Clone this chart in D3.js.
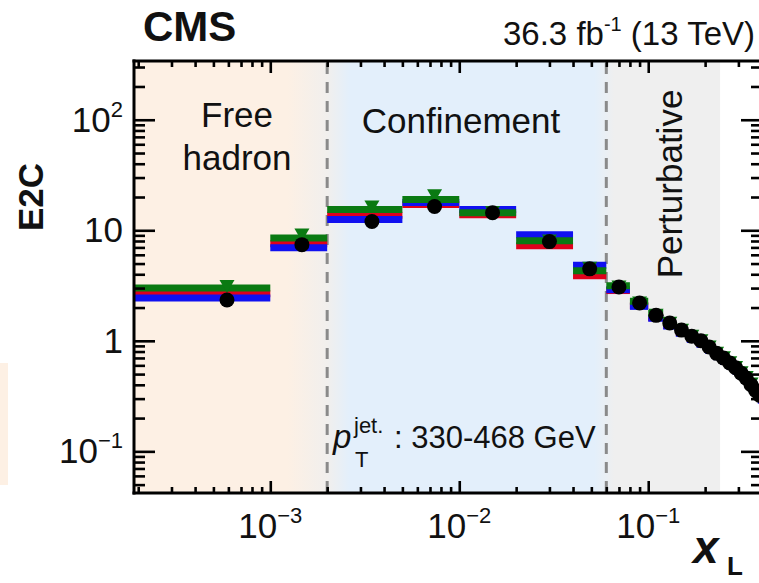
<!DOCTYPE html>
<html><head><meta charset="utf-8">
<script src="https://cdn.jsdelivr.net/npm/d3@7"></script>
<style>
body{margin:0;background:#fff;}
svg{display:block;font-family:"Liberation Sans",Arial,Helvetica,sans-serif;}
</style></head><body>
<svg id="chart" width="759" height="583"></svg>
<script>
// Bin edges in x_L (log bins at small angle, 0.02-wide bins in the perturbative tail)
const binEdges = [1e-4, 1e-3, 2e-3, 5e-3, 0.01, 0.02, 0.04, 0.06,
  0.08, 0.10, 0.12, 0.14, 0.16, 0.18, 0.20, 0.22, 0.24, 0.26, 0.28, 0.30, 0.32, 0.34, 0.36, 0.38, 0.40];
// Marker position inside each bin
const markerX = [5.9e-4, 1.47e-3, 3.45e-3, 7.4e-3, 0.015, 0.03, 0.049,
  0.07, 0.09, 0.11, 0.13, 0.15, 0.17, 0.19, 0.21, 0.23, 0.25, 0.27, 0.29, 0.31, 0.33, 0.35, 0.37, 0.39];
// Measured E2C (black points)
const dataE2C = [2.34, 7.41, 12.0, 16.4, 14.4, 7.9, 4.48,
  3.07, 2.2, 1.7, 1.45, 1.25, 1.1, 1.0, 0.88, 0.77, 0.70, 0.63, 0.57, 0.51, 0.46, 0.40, 0.356, 0.32];
// Generator predictions drawn as horizontal bands
const modelGreen = [3.01, 8.5, 15.4, 19.0, 14.4, 8.06, 4.30,
  3.15, 2.28, 1.77, 1.5, 1.3, 1.14, 1.04, 0.92, 0.80, 0.73, 0.66, 0.60, 0.53, 0.48, 0.42, 0.37, 0.33];
const modelRed = [2.66, 7.57, 13.7, 17.1, 13.8, 7.26, 3.87,
  2.85, 2.08, 1.62, 1.38, 1.19, 1.05, 0.95, 0.84, 0.74, 0.67, 0.60, 0.54, 0.49, 0.44, 0.38, 0.34, 0.30];
const modelBlue = [2.44, 6.96, 12.5, 17.8, 15.4, 9.1, 4.83,
  2.9, 2.05, 1.6, 1.36, 1.17, 1.03, 0.93, 0.82, 0.72, 0.65, 0.59, 0.53, 0.48, 0.43, 0.37, 0.33, 0.29];
// Prediction shown with downward triangles
const modelTriangle = [3.13, 9.14, 16.4, 20.7, 14.6, 8.1, 4.58,
  3.1, 2.22, 1.72, 1.46, 1.26, 1.11, 1.01, 0.89, 0.78, 0.71, 0.64, 0.58, 0.52, 0.47, 0.41, 0.36, 0.32];

const yTickLabels = [
  {value: 0.1, base: "10", exp: "\u22121"},
  {value: 1, base: "1", exp: ""},
  {value: 10, base: "10", exp: ""},
  {value: 100, base: "10", exp: "2"}
];
const xTickLabels = [
  {value: 1e-3, base: "10", exp: "\u22123"},
  {value: 1e-2, base: "10", exp: "\u22122"},
  {value: 1e-1, base: "10", exp: "\u22121"}
];
// Region boundaries: free hadron | confinement | perturbative (end of shading)
const regionEdges = [0.002, 0.06, 0.24];
const regionNames = ["Free", "hadron", "Confinement", "Perturbative"];

const svg = d3.select("#chart");
const m = {left: 134, right: 762, top: 61, bottom: 493};
const x = d3.scaleLog().domain([1.9e-4, 0.4]).range([m.left, m.right]);
const y = d3.scaleLog().domain([0.042, 340]).range([m.bottom, m.top]);

const defs = svg.append("defs");
defs.append("clipPath").attr("id", "plotClip").append("rect")
  .attr("x", m.left).attr("y", m.top).attr("width", m.right - m.left).attr("height", m.bottom - m.top);

// Background shading of the three regimes with soft transitions
const gx0 = m.left, gx1 = x(regionEdges[2]);
const grad = defs.append("linearGradient").attr("id", "regimes")
  .attr("gradientUnits", "userSpaceOnUse")
  .attr("x1", gx0).attr("x2", gx1).attr("y1", 0).attr("y2", 0);
const off = px => Math.max(0, Math.min(1, (px - gx0) / (gx1 - gx0)));
const xa = x(regionEdges[0]), xb = x(regionEdges[1]);
[
  [m.left, "#fdf0e4"],
  [xa - 40, "#fdf0e4"],
  [xa, "#f1efed"],
  [xa + 22, "#e3effb"],
  [xb - 12, "#e3effb"],
  [xb + 8, "#efefef"],
  [gx1, "#efefef"]
].forEach(([px, c]) => grad.append("stop").attr("offset", off(px)).attr("stop-color", c));

svg.append("rect").attr("x", gx0).attr("y", m.top).attr("width", gx1 - gx0)
  .attr("height", m.bottom - m.top).attr("fill", "url(#regimes)");

// Strip of the neighbouring panel's shading
svg.append("rect").attr("x", 0).attr("y", 363).attr("width", 8).attr("height", 122).attr("fill", "#fdf0e4");

// Dashed region separators
svg.append("g").selectAll("line").data(regionEdges.slice(0, 2)).join("line")
  .attr("x1", d => x(d)).attr("x2", d => x(d))
  .attr("y1", m.top + 2).attr("y2", m.bottom)
  .attr("stroke", "#8a8a8a").attr("stroke-width", 3).attr("stroke-dasharray", "11,8");

// Region labels
const regionText = svg.append("g").attr("font-size", 35).attr("fill", "#111");
regionText.append("text").attr("x", 237).attr("y", 127).attr("text-anchor", "middle").text(regionNames[0]);
regionText.append("text").attr("x", 237).attr("y", 170).attr("text-anchor", "middle").text(regionNames[1]);
regionText.append("text").attr("x", 461).attr("y", 133).attr("text-anchor", "middle").text(regionNames[2]);
regionText.append("text").attr("transform", "translate(682,184) rotate(-90)")
  .attr("text-anchor", "middle").text(regionNames[3]);

// Bins and markers
const bins = dataE2C.map((v, i) => ({
  lo: binEdges[i], hi: binEdges[i + 1], mx: markerX[i], data: v,
  green: modelGreen[i], red: modelRed[i], blue: modelBlue[i], tri: modelTriangle[i]
}));
const plot = svg.append("g").attr("clip-path", "url(#plotClip)");
const band = (key, color) => plot.append("g").selectAll("line").data(bins).join("line")
  .attr("x1", d => x(d.lo)).attr("x2", d => x(d.hi))
  .attr("y1", d => y(d[key])).attr("y2", d => y(d[key]))
  .attr("stroke", color).attr("stroke-width", 7);
band("red", "#e0001b");
band("blue", "#1010f0");
band("green", "#0a7a12");

plot.append("g").selectAll("path").data(bins).join("path")
  .attr("d", d => {
    const cx = x(d.mx), cy = y(d.tri);
    return `M${cx - 7.5},${cy - 6}L${cx + 7.5},${cy - 6}L${cx},${cy + 7}Z`;
  })
  .attr("fill", "#0a7a12");

plot.append("g").selectAll("circle").data(bins).join("circle")
  .attr("cx", d => x(d.mx)).attr("cy", d => y(d.data)).attr("r", 7.5).attr("fill", "#000");

// Axes: ticks drawn inward on all four sides
const isMajor = v => Math.abs(Math.log10(v) - Math.round(Math.log10(v))) < 1e-6;
const yMinor = y.ticks().filter(v => !isMajor(v)), yMajor = y.ticks().filter(isMajor);
const xMinor = x.ticks().filter(v => !isMajor(v)), xMajor = x.ticks().filter(isMajor);
const tickStyle = g => {
  g.select(".domain").remove();
  g.selectAll(".tick line").attr("stroke", "#000").attr("stroke-width", 2.6);
  g.selectAll(".tick text").remove();
};
const addAxis = (axis, t) => svg.append("g").attr("transform", t).call(axis).call(tickStyle);
addAxis(d3.axisLeft(y).tickValues(yMinor).tickSize(-11), `translate(${m.left},0)`);
addAxis(d3.axisLeft(y).tickValues(yMajor).tickSize(-21), `translate(${m.left},0)`);
addAxis(d3.axisRight(y).tickValues(yMinor).tickSize(-11), `translate(${m.right},0)`);
addAxis(d3.axisRight(y).tickValues(yMajor).tickSize(-21), `translate(${m.right},0)`);
addAxis(d3.axisBottom(x).tickValues(xMinor).tickSize(-6), `translate(0,${m.bottom})`);
addAxis(d3.axisBottom(x).tickValues(xMajor).tickSize(-12), `translate(0,${m.bottom})`);
addAxis(d3.axisTop(x).tickValues(xMinor).tickSize(-6), `translate(0,${m.top})`);
addAxis(d3.axisTop(x).tickValues(xMajor).tickSize(-12), `translate(0,${m.top})`);

// Frame
const frame = svg.append("g").attr("stroke", "#000").attr("stroke-width", 3).attr("stroke-linecap", "square");
frame.append("line").attr("x1", m.left).attr("x2", m.left).attr("y1", m.top).attr("y2", m.bottom);
frame.append("line").attr("x1", m.left).attr("x2", m.right).attr("y1", m.bottom).attr("y2", m.bottom);
frame.append("line").attr("x1", m.left).attr("x2", m.right).attr("y1", m.top).attr("y2", m.top);
frame.append("line").attr("x1", m.right).attr("x2", m.right).attr("y1", m.top).attr("y2", m.bottom);

// Tick labels with superscripts
const yl = svg.append("g").attr("font-size", 35).attr("fill", "#111");
yTickLabels.forEach(d => {
  const t = yl.append("text").attr("x", 123).attr("y", y(d.value) + 12).attr("text-anchor", "end");
  t.append("tspan").text(d.base);
  if (d.exp) t.append("tspan").attr("font-size", 22).attr("dy", -15).text(d.exp);
});
const xl = svg.append("g").attr("font-size", 35).attr("fill", "#111");
xTickLabels.forEach(d => {
  const t = xl.append("text").attr("x", x(d.value)).attr("y", 538).attr("text-anchor", "middle");
  t.append("tspan").text(d.base);
  if (d.exp) t.append("tspan").attr("font-size", 22).attr("dy", -15).text(d.exp);
});

// Axis titles
svg.append("text").attr("transform", "translate(43,197) rotate(-90)").attr("text-anchor", "middle")
  .attr("font-size", 35).attr("font-weight", "bold").attr("fill", "#111").text("E2C");
const xt = svg.append("g").attr("fill", "#111").attr("font-weight", "bold");
xt.append("text").attr("x", 693).attr("y", 563).attr("font-size", 46).attr("font-style", "italic").text("x");
xt.append("text").attr("x", 727).attr("y", 575).attr("font-size", 26).text("L");

// Header
svg.append("text").attr("x", 143).attr("y", 41).attr("font-size", 42).attr("font-weight", "bold")
  .attr("fill", "#111").text("CMS");
const lumi = svg.append("text").attr("x", 755).attr("y", 45).attr("text-anchor", "end")
  .attr("font-size", 33).attr("fill", "#111");
lumi.append("tspan").text("36.3 fb");
lumi.append("tspan").attr("font-size", 20).attr("dy", -14).text("-1");
lumi.append("tspan").attr("dy", 14).text(" (13 TeV)");

// Jet pT range
const pt = svg.append("g").attr("fill", "#111");
pt.append("text").attr("x", 333).attr("y", 448).attr("font-size", 33).attr("font-style", "italic").text("p");
pt.append("text").attr("x", 354).attr("y", 433).attr("font-size", 22).text("jet.");
pt.append("text").attr("x", 355).attr("y", 467).attr("font-size", 22).text("T");
pt.append("text").attr("x", 394).attr("y", 448).attr("font-size", 31).text(": 330-468 GeV");
</script>
</body></html>
